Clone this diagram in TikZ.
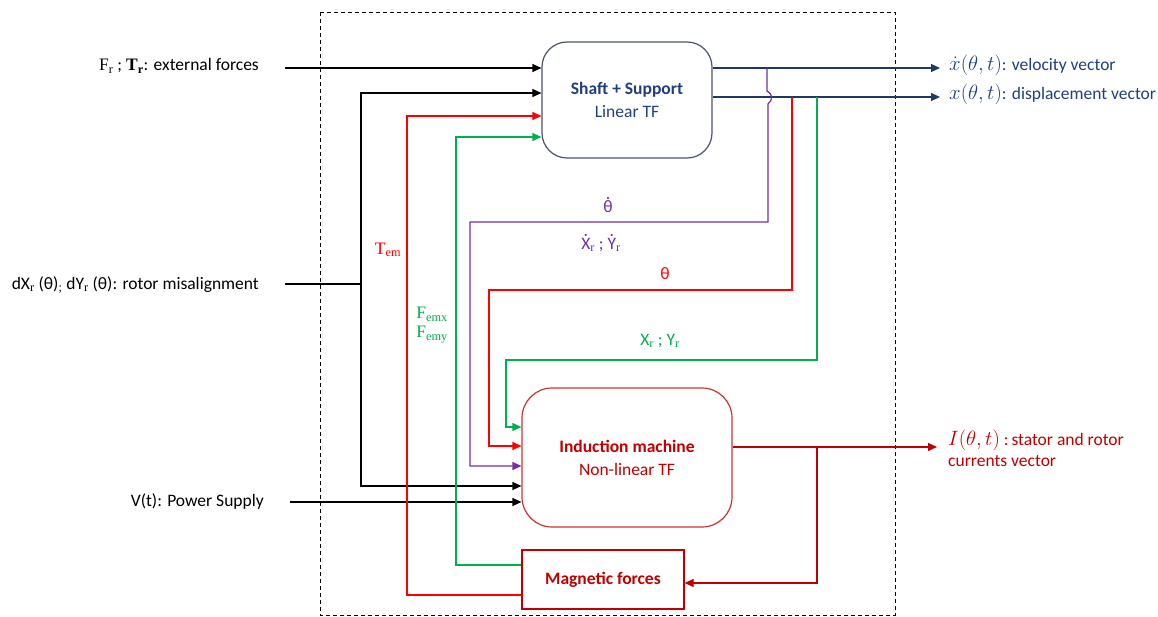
\documentclass[tikz,border=0pt]{standalone}
\usepackage{fontspec}
\setmainfont{Carlito}
\newfontfamily\seriff{Liberation Serif}
\usetikzlibrary{arrows.meta}
\definecolor{dblue}{HTML}{1F3864}
\definecolor{tblue}{HTML}{203F7F}
\definecolor{dred}{HTML}{C00000}
\definecolor{lred}{HTML}{FF0000}
\definecolor{grn}{HTML}{00B050}
\definecolor{purp}{HTML}{7030A0}
\definecolor{boxgray}{HTML}{4A5568}
\newcommand\sbs[1]{\textsubscript{\seriff #1}}
\newcommand\dotacc[1]{\accent"02D9 #1}
\newcommand\largemath[1]{{\fontsize{19.5}{21}\selectfont$#1$}}
\tikzset{
  conn/.style={line width=1.2pt},
  tip/.style={-{Triangle[length=9pt,width=8pt]}},
  arrK/.style={conn,tip,black},
  arrR/.style={conn,tip,lred},
  arrG/.style={conn,tip,grn},
  arrP/.style={conn,tip,purp},
  arrB/.style={conn,tip,dblue},
  arrD/.style={conn,tip,dred},
  lbl/.style={inner sep=0pt},
}
\begin{document}
\begin{tikzpicture}[x=1pt,y=-1pt,font=\fontsize{17.5}{21}\selectfont]
\useasboundingbox (0,0) rectangle (1158,617);
\fill[white] (0,0) rectangle (1158,617);
% frame
\draw[line width=0.9pt,dash pattern=on 4pt off 3pt] (320,12) rectangle (895,615);
% blocks
\node[draw=boxgray,line width=1.2pt,rounded corners=25pt,minimum width=170pt,minimum height=116pt,align=center,text=tblue,fill=white] (shaft) at (627,100) {\textbf{Shaft + Support}\\[2pt]Linear TF};
\node[draw=dred!80,line width=1.2pt,rounded corners=30pt,minimum width=210pt,minimum height=139pt,align=center,text=dred,fill=white] (ind) at (627,457.5) {\textbf{Induction machine}\\[2pt]Non-linear TF};
\node[draw=dred,line width=1.2pt,minimum width=162pt,minimum height=59pt,text=dred,fill=white] (mag) at (603,579.5) {\textbf{Magnetic forces}};
% free ends
\coordinate (fr) at (285,68);
\coordinate (mis) at (285,284);
\coordinate (jb) at (361,284);
\coordinate (vt) at (290,502);
\coordinate (pv) at (767,68);
\coordinate (rt) at (792,97);
\coordinate (gx) at (817,97);
\coordinate (ib) at (817,447);
\coordinate (ovel) at (940,68);
\coordinate (odis) at (940,97);
\coordinate (ocur) at (937,447);
% black inputs
\draw[arrK] (fr) -- (fr -| shaft.west);
\draw[conn] (mis) -- (jb);
\draw[arrK] (jb) |- (shaft.west |- 0,93);
\draw[arrK] (jb) |- (ind.west |- 0,486);
\draw[arrK] (vt) -- (vt -| ind.west);
% feedback from magnetic forces
\draw[arrR] (mag.west |- 0,595) -- (407,595) |- (shaft.west |- 0,116);
\draw[arrG] (mag.west |- 0,565) -| (456,137) -- (shaft.west |- 0,137);
% outputs of shaft
\draw[arrB] (shaft.east |- ovel) -- (ovel);
\draw[arrB] (shaft.east |- odis) -- (odis);
% feedback to induction machine
\draw[arrP] (pv) -- (767,91) .. controls (773,94) and (773,100) .. (768,104) -- (768,222) -- (470,222) |- (ind.west |- 0,466);
\draw[arrR] (rt) -- (792,290) -- (489,290) |- (ind.west |- 0,446);
\draw[arrG] (gx) -- (817,360) -- (506,360) |- (ind.west |- 0,427);
% induction outputs
\draw[arrD] (ind.east |- ocur) -- (ocur);
\draw[arrD] (ib) |- (mag.east |- 0,583);
% labels
\node[lbl,anchor=east] at (259,66) {{\seriff F}\sbs{r} ; {\seriff\bfseries T\textsubscript{r}}: external forces};
\node[lbl,anchor=east] at (259,285) {dX\sbs{r} (θ)\sbs{;} dY\sbs{r} (θ): rotor misalignment};
\node[lbl,anchor=east] at (264,502) {V(t): Power Supply};
\node[lbl,anchor=west,text=tblue] at (949,65) {\largemath{\dot{x}(\theta,t)}: velocity vector};
\node[lbl,anchor=west,text=tblue] at (949,94) {\largemath{x(\theta,t)}: displacement vector};
\node[lbl,anchor=west,text=dred,align=left] at (948,448) {\largemath{I(\theta,t)} :\,stator and rotor\\currents vector};
\node[lbl,text=purp] at (608,205) {\dotacc{θ}};
\node[lbl,text=purp] at (601,243) {\dotacc{X}\sbs{r} ; \dotacc{Y}\sbs{r}};
\node[lbl,text=lred] at (665,274) {θ};
\node[lbl,text=grn] at (660,341) {X\sbs{r} ; Y\sbs{r}};
\node[lbl,text=lred] at (388,250) {{\seriff T}\sbs{em}};
\node[lbl,text=grn,align=center] at (432,325) {{\seriff F}\sbs{emx}\\[-2pt]{\seriff F}\sbs{emy}};
\end{tikzpicture}
\end{document}
